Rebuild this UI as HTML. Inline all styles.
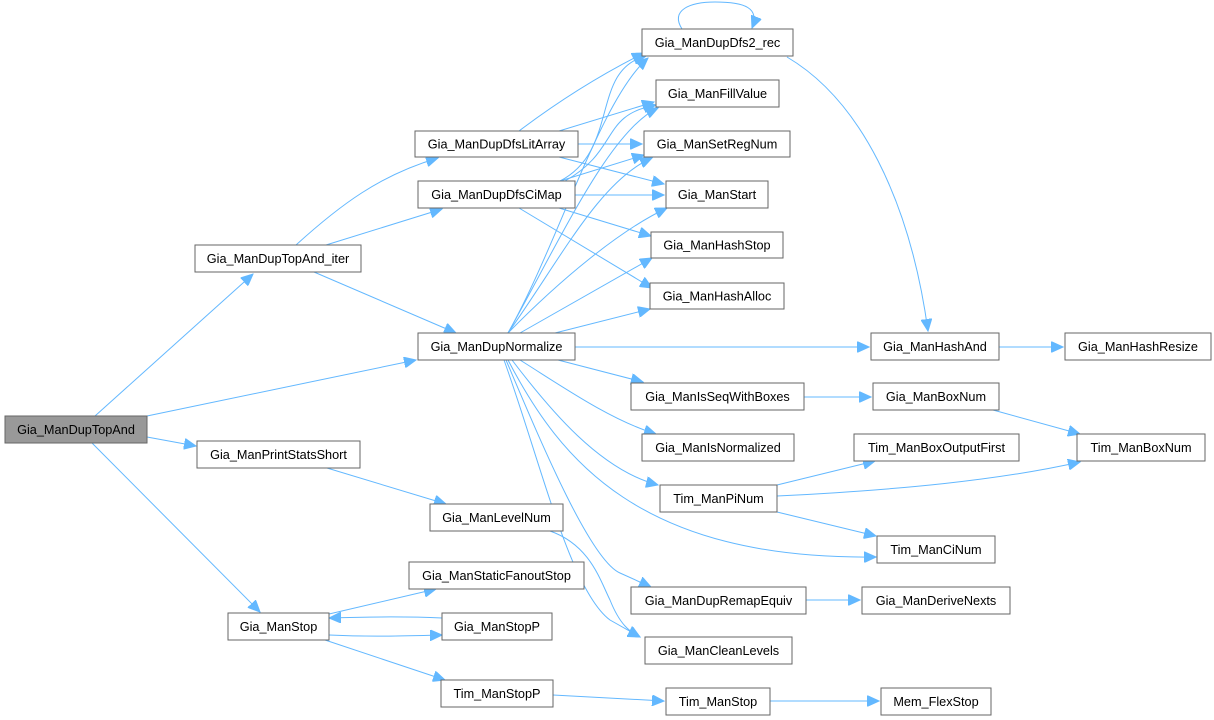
<!DOCTYPE html>
<html><head><meta charset="utf-8"><style>
html,body{margin:0;padding:0;background:#fff;}
svg{display:block;}
text{font-family:"Liberation Sans",Arial,sans-serif;font-size:12.7px;fill:#000;}
.e{fill:none;stroke:#63b8ff;stroke-width:1;}
.n{fill:#fff;stroke:#666;stroke-width:1;}
</style></head><body>
<svg width="1214" height="720" viewBox="0 0 1214 720" xmlns="http://www.w3.org/2000/svg">
<defs>
<marker id="a" markerUnits="userSpaceOnUse" markerWidth="13" markerHeight="11" refX="12" refY="5.5" orient="auto">
<path d="M0,0 L12,5.5 L0,11 z" fill="#63b8ff" stroke="#63b8ff"/>
</marker>
</defs>
<g marker-end="url(#a)">
<path class="e" d="M95,416 L253,274"/>
<path class="e" d="M147,416 L416,360"/>
<path class="e" d="M147,437 L196,446"/>
<path class="e" d="M92,443 L260,612"/>
<path class="e" d="M296,245 C340,205 380,175 438,158"/>
<path class="e" d="M326,245 L442,209"/>
<path class="e" d="M314,272 L456,333"/>
<path class="e" d="M519,131 C560,100 600,75 644,53"/>
<path class="e" d="M559,131 L654,102"/>
<path class="e" d="M578,144 L642,144"/>
<path class="e" d="M559,157 L664,184"/>
<path class="e" d="M560,181 C620,150 590,70 646,56"/>
<path class="e" d="M565,181 C620,150 600,115 656,105"/>
<path class="e" d="M560,181 L644,155"/>
<path class="e" d="M575,195 L664,195"/>
<path class="e" d="M559,208 L651,236"/>
<path class="e" d="M519,208 L652,288"/>
<path class="e" d="M508,333 C560,240 600,100 648,58"/>
<path class="e" d="M508,333 C560,240 610,130 658,108"/>
<path class="e" d="M508,333 C560,260 600,180 652,158"/>
<path class="e" d="M508,333 C560,280 620,230 667,208"/>
<path class="e" d="M520,333 L652,258"/>
<path class="e" d="M555,333 L650,309"/>
<path class="e" d="M575,347 L869,347"/>
<path class="e" d="M558,360 L643,382"/>
<path class="e" d="M520,360 C560,385 610,420 656,434"/>
<path class="e" d="M512,360 C550,410 600,470 658,485"/>
<path class="e" d="M508,360 C560,460 640,560 876,557"/>
<path class="e" d="M506,360 C540,440 590,560 620,573 L651,587"/>
<path class="e" d="M504,360 C540,460 570,590 610,620 L640,637"/>
<path class="e" d="M550,531 C590,545 600,580 610,600 C620,625 630,632 640,637"/>
<path class="e" d="M327,468 L446,504"/>
<path class="e" d="M329,614 L436,589"/>
<path class="e" d="M442,618 C400,616 360,617 329,618"/>
<path class="e" d="M329,635 C370,637 400,636 442,635"/>
<path class="e" d="M325,640 L445,680"/>
<path class="e" d="M553,695 L664,701"/>
<path class="e" d="M770,701 L879,701"/>
<path class="e" d="M682,29 C670,10 690,2 715,2 C745,2 760,8 752,28"/>
<path class="e" d="M787,57 C860,100 910,200 928,331"/>
<path class="e" d="M999,347 L1063,347"/>
<path class="e" d="M804,397 L871,397"/>
<path class="e" d="M993,410 L1080,434"/>
<path class="e" d="M777,485 L875,461"/>
<path class="e" d="M777,496 C900,490 1000,480 1080,462"/>
<path class="e" d="M777,512 L876,536"/>
<path class="e" d="M806,600 L860,600"/>
</g>
<g>
<rect x="5" y="416" width="142" height="27" fill="#999" stroke="#666"/><text x="76" y="434" text-anchor="middle">Gia_ManDupTopAnd</text>
<rect class="n" x="195" y="245" width="166" height="27"/><text x="278" y="263" text-anchor="middle">Gia_ManDupTopAnd_iter</text>
<rect class="n" x="415" y="131" width="163" height="26"/><text x="496.5" y="148.5" text-anchor="middle">Gia_ManDupDfsLitArray</text>
<rect class="n" x="418" y="181" width="157" height="27"/><text x="496.5" y="199" text-anchor="middle">Gia_ManDupDfsCiMap</text>
<rect class="n" x="418" y="333" width="157" height="27"/><text x="496.5" y="351" text-anchor="middle">Gia_ManDupNormalize</text>
<rect class="n" x="197" y="441" width="163" height="27"/><text x="278.5" y="459" text-anchor="middle">Gia_ManPrintStatsShort</text>
<rect class="n" x="430" y="504" width="133" height="27"/><text x="496.5" y="522" text-anchor="middle">Gia_ManLevelNum</text>
<rect class="n" x="409" y="562" width="175" height="27"/><text x="496.5" y="580" text-anchor="middle">Gia_ManStaticFanoutStop</text>
<rect class="n" x="228" y="613" width="101" height="27"/><text x="278.5" y="631" text-anchor="middle">Gia_ManStop</text>
<rect class="n" x="442" y="613" width="110" height="27"/><text x="497" y="631" text-anchor="middle">Gia_ManStopP</text>
<rect class="n" x="441" y="680" width="112" height="27"/><text x="497" y="698" text-anchor="middle">Tim_ManStopP</text>
<rect class="n" x="642" y="29" width="151" height="27"/><text x="717.5" y="47" text-anchor="middle">Gia_ManDupDfs2_rec</text>
<rect class="n" x="656" y="80" width="123" height="27"/><text x="717.5" y="98" text-anchor="middle">Gia_ManFillValue</text>
<rect class="n" x="644" y="131" width="146" height="26"/><text x="717" y="148.5" text-anchor="middle">Gia_ManSetRegNum</text>
<rect class="n" x="666" y="181" width="102" height="27"/><text x="717" y="199" text-anchor="middle">Gia_ManStart</text>
<rect class="n" x="651" y="232" width="132" height="26"/><text x="717" y="249.5" text-anchor="middle">Gia_ManHashStop</text>
<rect class="n" x="650" y="283" width="134" height="26"/><text x="717" y="300.5" text-anchor="middle">Gia_ManHashAlloc</text>
<rect class="n" x="871" y="333" width="128" height="27"/><text x="935" y="351" text-anchor="middle">Gia_ManHashAnd</text>
<rect class="n" x="1065" y="333" width="146" height="27"/><text x="1138" y="351" text-anchor="middle">Gia_ManHashResize</text>
<rect class="n" x="631" y="383" width="173" height="27"/><text x="717.5" y="401" text-anchor="middle">Gia_ManIsSeqWithBoxes</text>
<rect class="n" x="873" y="383" width="126" height="27"/><text x="936" y="401" text-anchor="middle">Gia_ManBoxNum</text>
<rect class="n" x="642" y="434" width="152" height="27"/><text x="718" y="452" text-anchor="middle">Gia_ManIsNormalized</text>
<rect class="n" x="854" y="434" width="165" height="27"/><text x="936.5" y="452" text-anchor="middle">Tim_ManBoxOutputFirst</text>
<rect class="n" x="1077" y="434" width="128" height="27"/><text x="1141" y="452" text-anchor="middle">Tim_ManBoxNum</text>
<rect class="n" x="660" y="485" width="117" height="27"/><text x="718.5" y="503" text-anchor="middle">Tim_ManPiNum</text>
<rect class="n" x="877" y="536" width="118" height="27"/><text x="936" y="554" text-anchor="middle">Tim_ManCiNum</text>
<rect class="n" x="631" y="587" width="175" height="27"/><text x="718.5" y="605" text-anchor="middle">Gia_ManDupRemapEquiv</text>
<rect class="n" x="862" y="587" width="148" height="27"/><text x="936" y="605" text-anchor="middle">Gia_ManDeriveNexts</text>
<rect class="n" x="645" y="637" width="147" height="27"/><text x="718.5" y="655" text-anchor="middle">Gia_ManCleanLevels</text>
<rect class="n" x="666" y="688" width="104" height="27"/><text x="718" y="706" text-anchor="middle">Tim_ManStop</text>
<rect class="n" x="881" y="688" width="110" height="27"/><text x="936" y="706" text-anchor="middle">Mem_FlexStop</text>
</g>
</svg>
</body></html>
